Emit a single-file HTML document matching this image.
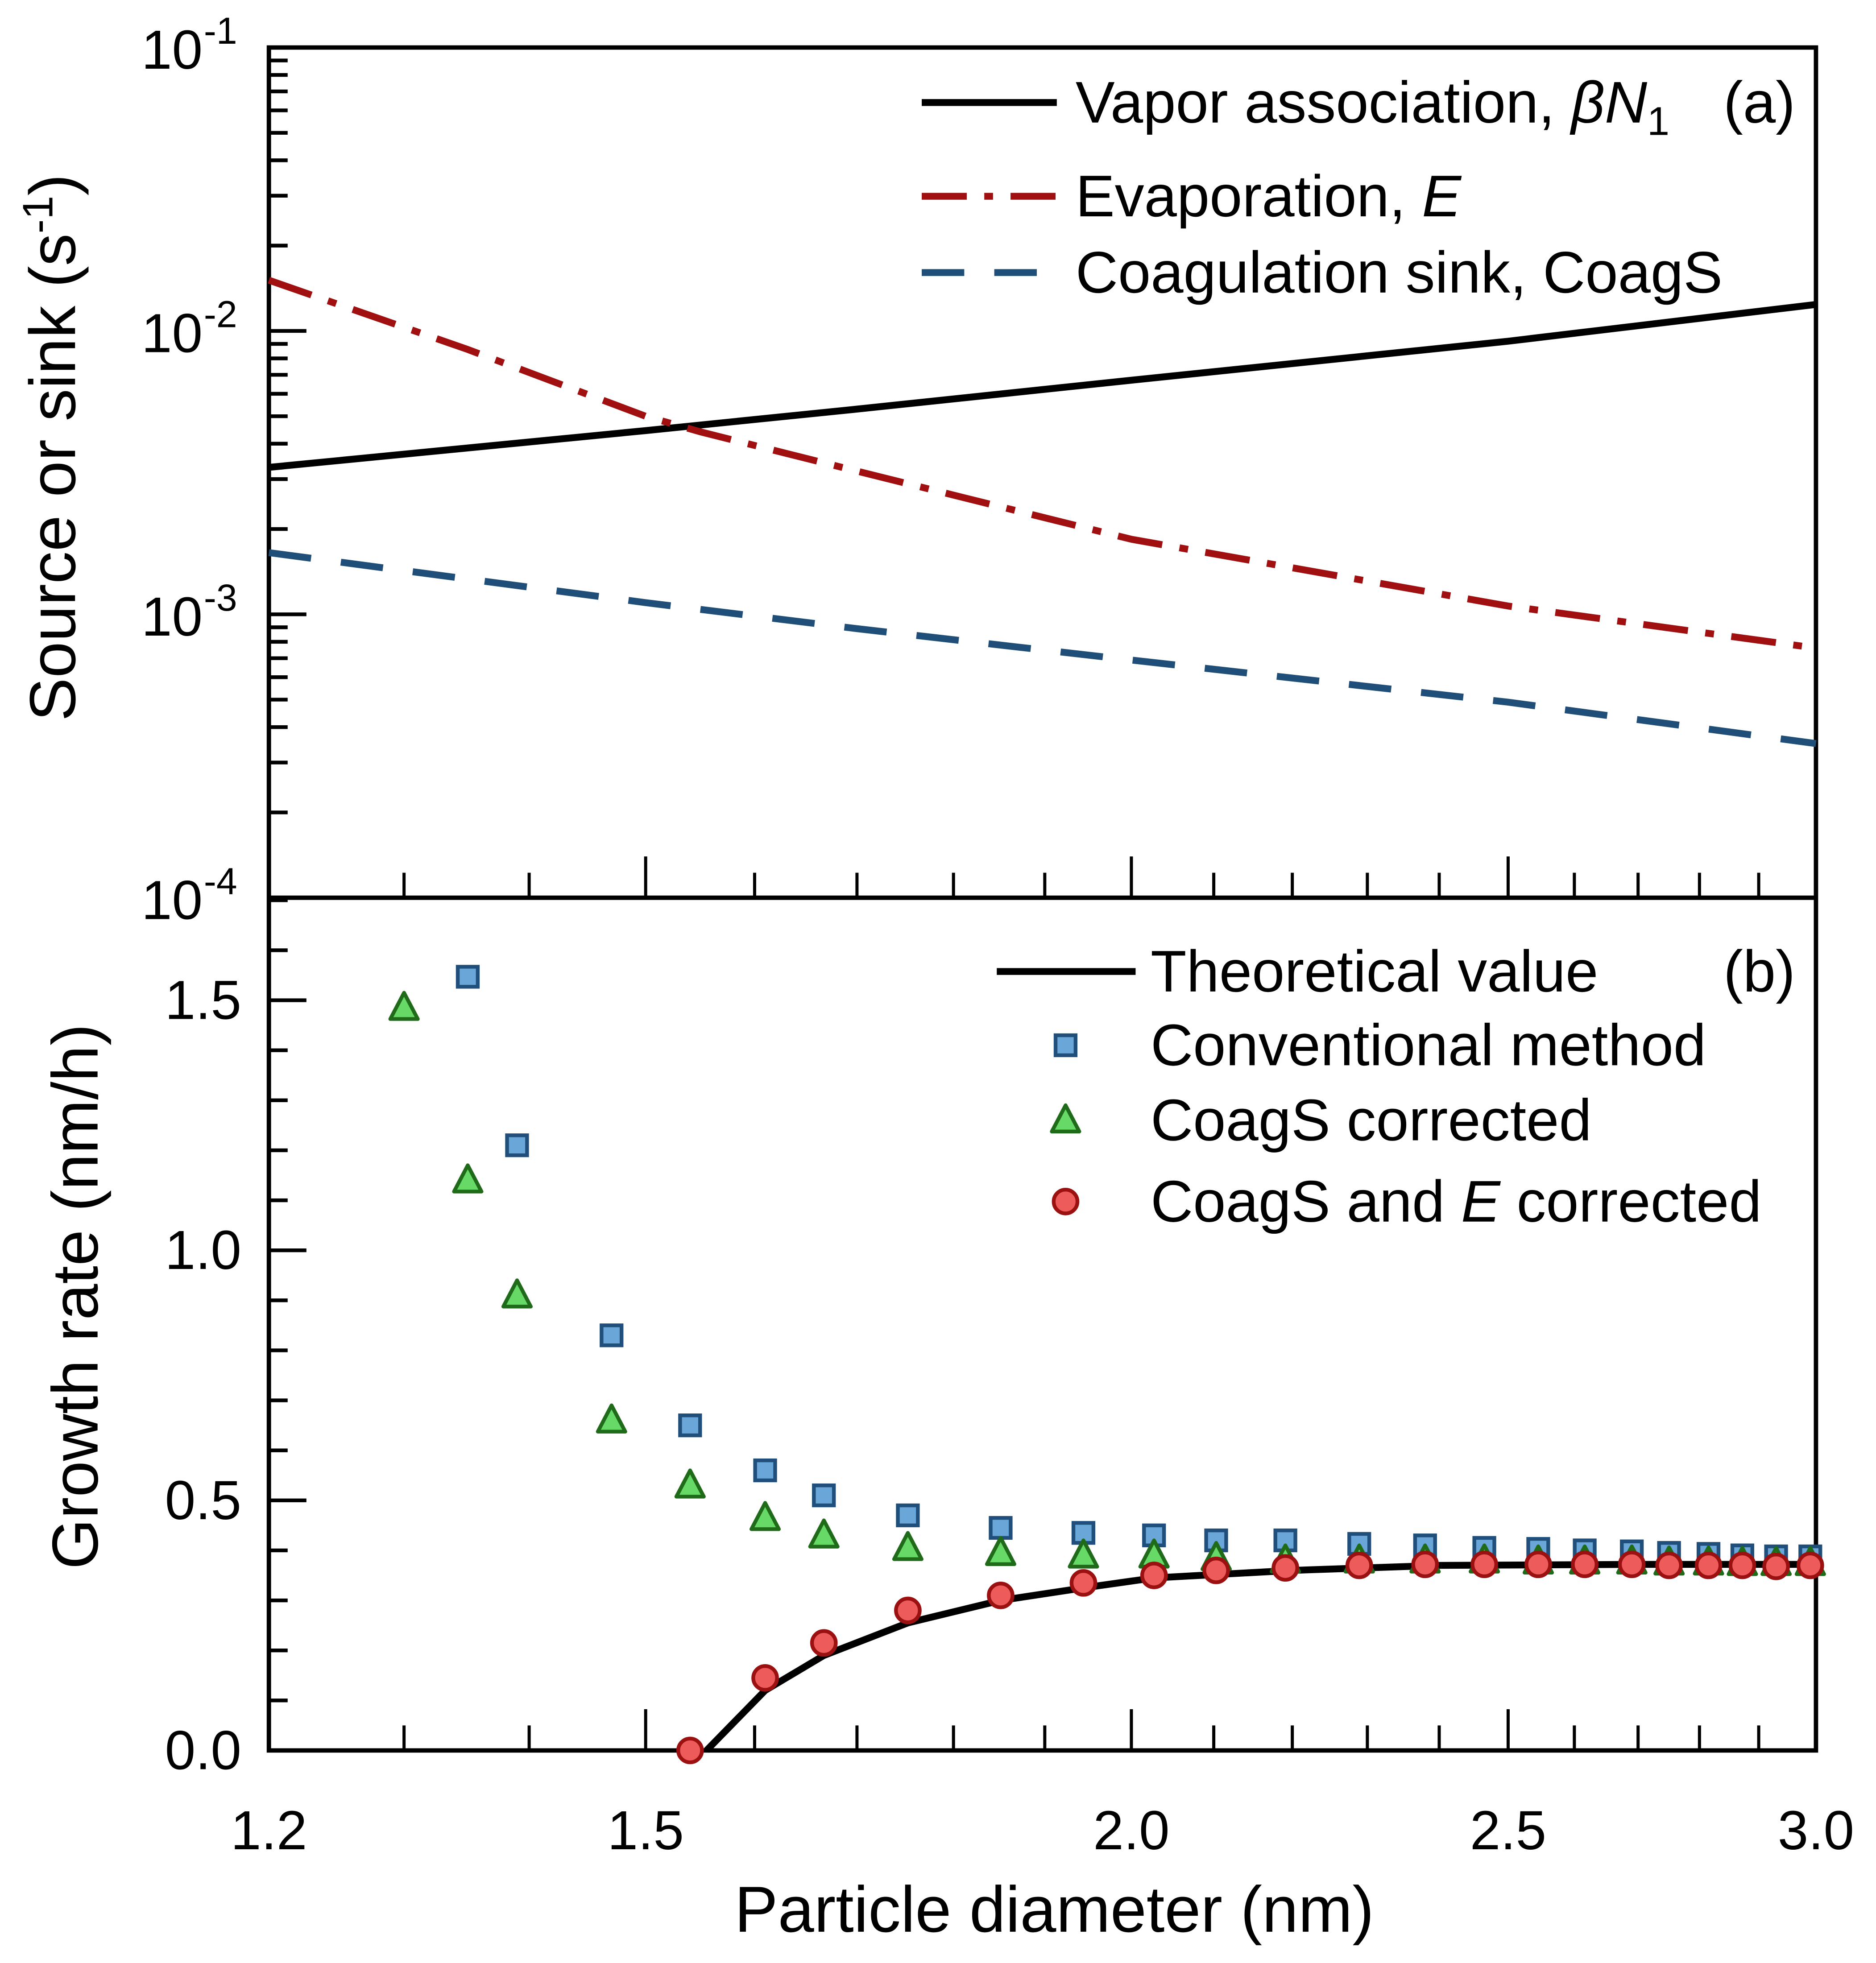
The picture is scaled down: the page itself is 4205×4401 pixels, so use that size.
<!DOCTYPE html>
<html><head><meta charset="utf-8"><style>
html,body{margin:0;padding:0;background:#fff}
svg{display:block}
text{font-family:"Liberation Sans",Arial,sans-serif;fill:#000}
</style></head><body>
<svg id="chart" width="4205" height="4401" viewBox="0 0 1500 1570" preserveAspectRatio="none" xmlns="http://www.w3.org/2000/svg">
<g id="g"></g>
</svg>
<script>
// ---- data ----
const topD = [1.2, 1.5, 1.7, 2.0, 2.5, 3.0];
const vaporAssoc = [3.3e-3, 4.45e-3, 5.3e-3, 6.7e-3, 9.2e-3, 1.24e-2];
const evapD = [1.2, 1.35, 1.5, 1.55, 1.7, 2.0, 2.5, 3.0];
const evaporation = [1.51e-2, 8.6e-3, 5.0e-3, 4.4e-3, 3.2e-3, 1.84e-3, 1.07e-3, 7.6e-4];
const coagS = [1.65e-3, 1.1e-3, 8.9e-4, 6.9e-4, 4.9e-4, 3.5e-4];
const ptD = [1.30,1.35,1.39,1.47,1.54,1.61,1.667,1.752,1.851,1.944,2.027,2.103,2.191,2.289,2.38,2.465,2.545,2.616,2.69,2.75,2.815,2.872,2.93,2.99];
const conventional = [null,1.547,1.21,0.83,0.65,0.56,0.51,0.47,0.445,0.435,0.43,0.42,0.42,0.413,0.41,0.405,0.403,0.4,0.398,0.395,0.393,0.39,0.388,0.388];
const coagCorrected = [1.485,1.14,0.91,0.66,0.53,0.465,0.43,0.405,0.395,0.39,0.39,0.385,0.38,0.38,0.38,0.38,0.378,0.378,0.378,0.376,0.376,0.375,0.375,0.375];
const coagECorrected = [null,null,null,null,0.0,0.145,0.215,0.28,0.31,0.335,0.35,0.36,0.365,0.37,0.372,0.372,0.372,0.372,0.372,0.37,0.37,0.37,0.368,0.37];
const theoryD = [1.555,1.61,1.667,1.752,1.851,1.944,2.027,2.2,2.4,2.7,3.0];
const theory = [0,0.12,0.19,0.255,0.30,0.325,0.345,0.36,0.37,0.372,0.372];
const xTickLabels = ["1.2","1.5","2.0","2.5","3.0"];
const xTickVals = [1.2,1.5,2.0,2.5,3.0];
const yBotTickVals = [0,0.5,1.0,1.5];
const yBotTickLabels = ["0.0","0.5","1.0","1.5"];
const yTopExps = [-1,-2,-3,-4];

// ---- axes ----
const L=215,R=1452,T=38,M=718,B=1400;
const x = d => L + Math.log(d/1.2)/Math.log(3/1.2)*(R-L);
const yTop = v => T + (-1 - Math.log10(v))*(M-T)/3;
const yBot = v => B - v*400;
const NS="http://www.w3.org/2000/svg";
const g=document.getElementById('g');
function el(tag,attrs,parent){const e=document.createElementNS(NS,tag);for(const k in attrs)e.setAttribute(k,attrs[k]);(parent||g).appendChild(e);return e;}
function line(x1,y1,x2,y2,w){return el('line',{x1,y1,x2,y2,stroke:'#000','stroke-width':w});}
const LW=5.5;

let fr=el('rect',{x:L,y:T,width:R-L,height:B-T,fill:'none',stroke:'#000','stroke-width':3.5});


let mid=line(L,M,R,M,3.5);



for(let d=1.3;d<3.0;d+=0.1){const dd=Math.round(d*10)/10;const major=(dd===1.5||dd===2.0||dd===2.5);const len=major?33:20;
 let t1=line(x(dd),M,x(dd),M-len,2.5);
 let t2=line(x(dd),B,x(dd),B-len,2.5);}
xTickVals.forEach((v,i)=>{let t=el('text',{x:x(v),y:1479,'font-size':44,'text-anchor':'middle'});t.textContent=xTickLabels[i];
 });

for(let e=-4;e<-1;e++){for(let m=1;m<10;m++){const v=m*Math.pow(10,e);const yy=yTop(v);
 let t=line(L,yy,L+(m===1?30:15),yy,3);}}
yTopExps.forEach(e=>{const yy=yTop(Math.pow(10,e));
 let t=el('text',{x:162,y:yy+17,'font-size':44,'text-anchor':'end'});t.textContent='10';
 
 let s=el('text',{x:163,y:yy-3,'font-size':30,'text-anchor':'start'});s.textContent=String(e);
 });

for(let i=1;i<=17;i++){const v=i/10;const yy=yBot(v);const major=(i%5===0);
 let t=line(L,yy,L+(major?30:15),yy,3);}
yBotTickVals.forEach((v,i)=>{let t=el('text',{x:193,y:yBot(v)+15,'font-size':44,'text-anchor':'end'});t.textContent=yBotTickLabels[i];
 });

let xt=el('text',{x:843,y:1545,'font-size':52,'text-anchor':'middle'});xt.textContent='Particle diameter (nm)';

let yt1=el('text',{x:0,y:0,'font-size':52,'text-anchor':'middle',transform:'translate(60,358) rotate(-90)'});
yt1.innerHTML='Source or sink (s<tspan dy="-18" font-size="34">-1</tspan><tspan dy="18">)</tspan>';

let yt2=el('text',{x:0,y:0,'font-size':52,'text-anchor':'middle',transform:'translate(78,1037) rotate(-90)'});yt2.textContent='Growth rate (nm/h)';


function path(xs,ys,fx,fy){return xs.map((d,i)=>(i?'L':'M')+x(d).toFixed(1)+','+fy(ys[i]).toFixed(1)).join(' ');}
const RD='36 14 7 14', BD='34 24';
let p1=el('path',{d:path(topD,vaporAssoc,x,yTop),fill:'none',stroke:'#000','stroke-width':LW});

let p2=el('path',{d:path(evapD,evaporation,x,yTop),fill:'none',stroke:'#a01010','stroke-width':LW,'stroke-dasharray':RD});

let p3=el('path',{d:path(topD,coagS,x,yTop),fill:'none',stroke:'#1f4e79','stroke-width':LW,'stroke-dasharray':BD});


let l1=line(737,82,845,82,LW);
let lt1=el('text',{x:860,y:98,'font-size':47});lt1.innerHTML='Vapor association, <tspan font-style="italic">βN</tspan><tspan font-size="32" dy="10">1</tspan>';

let la=el('text',{x:1378,y:98,'font-size':47});la.textContent='(a)';
let l2=el('line',{x1:737,y1:157,x2:845,y2:157,stroke:'#a01010','stroke-width':LW,'stroke-dasharray':RD});

let lt2=el('text',{x:860,y:173,'font-size':47});lt2.innerHTML='Evaporation, <tspan font-style="italic">E</tspan>';

let l3=el('line',{x1:737,y1:218,x2:845,y2:218,stroke:'#1f4e79','stroke-width':LW,'stroke-dasharray':BD});

let lt3=el('text',{x:860,y:234,'font-size':47});lt3.textContent='Coagulation sink, CoagS';


let th=el('path',{d:path(theoryD,theory,x,yBot),fill:'none',stroke:'#000','stroke-width':LW});

function sq(cx,cy){return el('rect',{x:cx-8,y:cy-8,width:16,height:16,fill:'#6aa6d8',stroke:'#1f4f7a','stroke-width':3});}
function tri(cx,cy){return el('path',{d:`M${cx},${cy-12} L${cx+11},${cy+9} L${cx-11},${cy+9} Z`,fill:'#66d966',stroke:'#206b1a','stroke-width':3,'stroke-linejoin':'round'});}
function circ(cx,cy){return el('circle',{cx,cy,r:9.5,fill:'#ee5b5b',stroke:'#9b1010','stroke-width':3});}
ptD.forEach((d,i)=>{if(conventional[i]!=null){let m=sq(x(d),yBot(conventional[i]));}});
ptD.forEach((d,i)=>{if(coagCorrected[i]!=null){let m=tri(x(d),yBot(coagCorrected[i]));}});
ptD.forEach((d,i)=>{if(coagECorrected[i]!=null){let m=circ(x(d),yBot(coagECorrected[i]));}});

let bl1=line(797,777,908,777,LW);
let bt1=el('text',{x:920,y:793,'font-size':47});bt1.textContent='Theoretical value';
let lb=el('text',{x:1378,y:793,'font-size':47});lb.textContent='(b)';
let bm2=sq(852,836);
let bt2=el('text',{x:920,y:852,'font-size':47});bt2.textContent='Conventional method';
let bm3=tri(852,896);
let bt3=el('text',{x:920,y:912,'font-size':47});bt3.textContent='CoagS corrected';
let bm4=circ(852,961);
let bt4=el('text',{x:920,y:977,'font-size':47});bt4.innerHTML='CoagS and <tspan font-style="italic">E</tspan> corrected';
</script>
</body></html>
